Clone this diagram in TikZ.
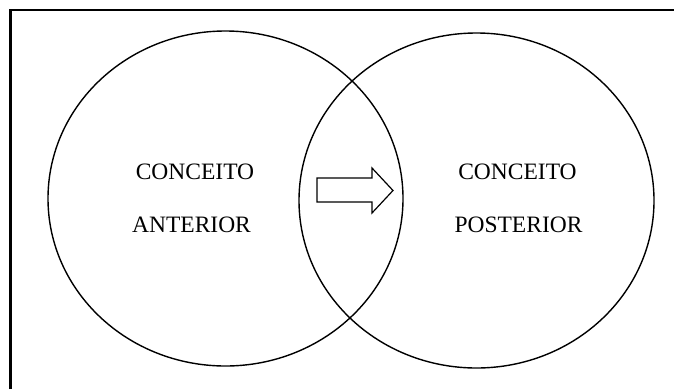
\documentclass[tikz,border=0pt]{standalone}
\usepackage{fontspec}
\setmainfont{Liberation Serif}
\usetikzlibrary{shapes.geometric}

\begin{document}
\begin{tikzpicture}[x=1pt, y=-1pt]

\tikzset{set/.style = {shape=ellipse, draw, line width=1.4pt, minimum width=355pt, minimum height=335pt, inner sep=0pt}}
\tikzset{word/.style = {anchor=base, inner sep=0pt, font=\fontsize{23.5}{28}\selectfont}}

\useasboundingbox (0,0) rectangle (674,389);

% frame
\draw[line width=2.6pt] (10.5,389) -- (10.5,10) -- (674,10);

% sets
\node[set] (anterior) at (225.5,198.5) {};
\node[set] (posterior) at (476.5,200.5) {};

% labels
\node[word] (c1) at (195,179) {CONCEITO};
\node[word] (a1) at (191.5,232) {ANTERIOR};
\node[word] (c2) at (517.5,179) {CONCEITO};
\node[word] (p2) at (518.5,232) {POSTERIOR};

% arrow
\draw[line width=1.2pt, line join=miter] (317,178) -- (372,178) -- (372,168) -- (393,190.5)
  -- (372,213) -- (372,202) -- (317,202) -- cycle;

\end{tikzpicture}
\end{document}
